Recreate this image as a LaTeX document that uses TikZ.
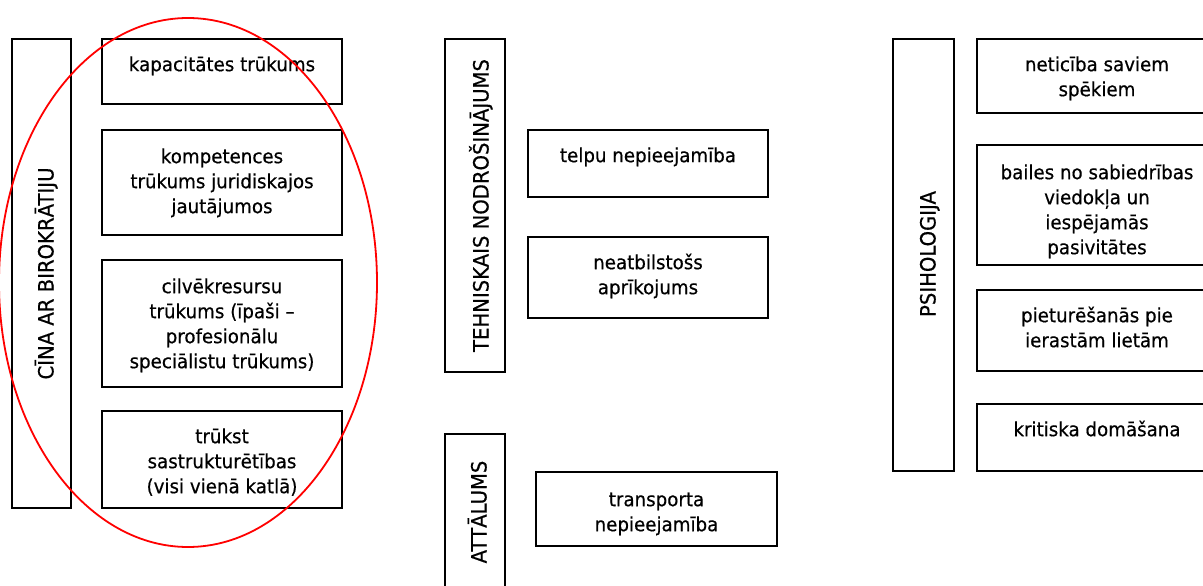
\documentclass[tikz,border=0pt]{standalone}
\usepackage{fontspec}
\newfontfamily\lvfont{DejaVu Sans}[FakeStretch=0.935,FakeBold=0.5]
\newcommand\txtsize{\lvfont\fontsize{19.5}{25}\selectfont}
\newcommand\vertsize{\lvfont\fontsize{21}{25}\selectfont}
\newcommand\fl{\rule{0pt}{20pt}}
\begin{document}
\begin{tikzpicture}[x=1pt,y=-1pt,
  boxr/.style={draw, line width=2pt, inner sep=0pt, outer sep=0pt, anchor=north west},
  txt/.style={font=\txtsize, align=center, inner sep=0pt, anchor=north},
  vlab/.style={font=\vertsize, rotate=90, anchor=base, inner sep=0pt}]
\useasboundingbox (0,0) rectangle (1203,586);
\clip (0,0) rectangle (1203,586);
% left column
\node[boxr, minimum width=59pt, minimum height=469pt] (L0) at (12,39) {};
\node[vlab] (L0t) at (53.5,273.5) {CĪNA AR BIROKRĀTIJU};
\node[boxr, minimum width=240pt, minimum height=65pt] (L1) at (102,39) {};
\node[boxr, minimum width=240pt, minimum height=105pt] (L2) at (102,130) {};
\node[boxr, minimum width=240pt, minimum height=127pt] (L3) at (102,260) {};
\node[boxr, minimum width=240pt, minimum height=97pt] (L4) at (102,411) {};
\node[txt] (L1t) at ([yshift=-12pt]L1.north) {\fl kapacitātes trūkums};
\node[txt] (L2t) at ([yshift=-13pt]L2.north) {\fl kompetences\\trūkums juridiskajos\\jautājumos};
\node[txt] (L3t) at ([yshift=-13pt]L3.north) {\fl cilvēkresursu\\trūkums (īpaši –\\profesionālu\\speciālistu trūkums)};
\node[txt] (L4t) at ([yshift=-12pt]L4.north) {\fl trūkst\\sastrukturētības\\(visi vienā katlā)};
% middle column
\node[boxr, minimum width=60pt, minimum height=333pt] (M0) at (445,39) {};
\node[vlab] (M0t) at (488.5,205.5) {TEHNISKAIS NODROŠINĀJUMS};
\node[boxr, minimum width=240pt, minimum height=67pt] (M1) at (528,130) {};
\node[boxr, minimum width=240pt, minimum height=81pt] (M2) at (528,237) {};
\node[txt] (M1t) at ([yshift=-12pt]M1.north) {\fl telpu nepieejamība};
\node[txt] (M2t) at ([yshift=-12pt]M2.north) {\fl neatbilstošs\\aprīkojums};
\node[boxr, minimum width=60pt, minimum height=170pt] (M3) at (445,434) {};
\node[vlab] (M3t) at (486.5,512) {ATTĀLUMS};
\node[boxr, minimum width=241pt, minimum height=74pt] (M4) at (536,472) {};
\node[txt] (M4t) at ([yshift=-14pt]M4.north) {\fl transporta\\nepieejamība};
% right column
\node[boxr, minimum width=61pt, minimum height=432pt] (R0) at (893,39) {};
\node[vlab] (R0t) at (935.5,254) {PSIHOLOGIJA};
\node[boxr, minimum width=240pt, minimum height=74pt] (R1) at (977,39) {};
\node[boxr, minimum width=240pt, minimum height=120pt] (R2) at (977,145) {};
\node[boxr, minimum width=240pt, minimum height=81pt] (R3) at (977,290) {};
\node[boxr, minimum width=240pt, minimum height=67pt] (R4) at (977,404) {};
\node[txt] (R1t) at ([yshift=-12pt]R1.north) {\fl neticība saviem\\spēkiem};
\node[txt] (R2t) at ([yshift=-14pt]R2.north) {\fl bailes no sabiedrības\\viedokļa un\\iespējamās\\pasivitātes};
\node[txt] (R3t) at ([yshift=-12pt]R3.north) {\fl pieturēšanās pie\\ierastām lietām};
\node[txt] (R4t) at ([yshift=-12pt]R4.north) {\fl kritiska domāšana};
% red ellipse
\draw[red, line width=1.8pt] (188,282.5) ellipse [x radius=189, y radius=264.5];
\end{tikzpicture}
\end{document}
